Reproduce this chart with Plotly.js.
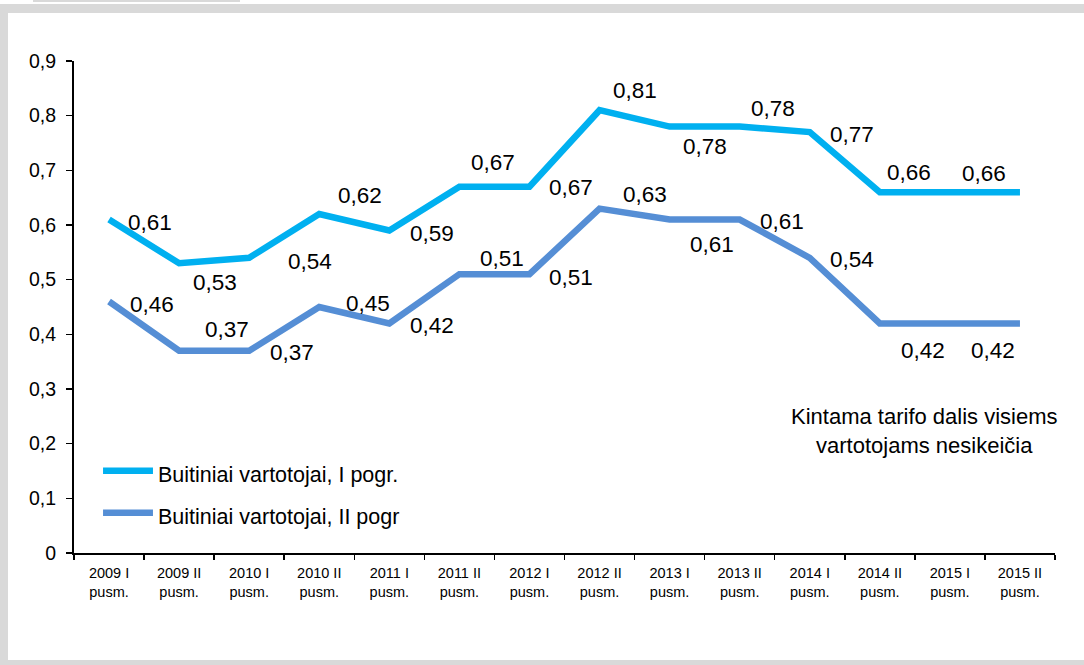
<!DOCTYPE html>
<html>
<head>
<meta charset="utf-8">
<script src="https://cdn.plot.ly/plotly-3.0.1.min.js"></script>
<style>
  html, body { margin: 0; padding: 0; background: #ffffff; }
  #wrap { position: relative; width: 1084px; height: 665px; overflow: hidden; background: #ffffff; }
  #chart { position: absolute; left: 0; top: 0; width: 1084px; height: 665px; }
  .band { position: absolute; background: #d9d9d9; }
</style>
</head>
<body>
<div id="wrap">
  <div class="band" style="left:33px;top:0;width:207px;height:2px;"></div>
  <div class="band" style="left:0;top:4px;width:1084px;height:9px;"></div>
  <div class="band" style="left:0;top:4px;width:8px;height:661px;"></div>
  <div class="band" style="left:0;top:660px;width:1084px;height:5px;"></div>
  <div id="chart"></div>
</div>
<script>
// ---- data ----
const categories = [
  "2009 I<br>pusm.", "2009 II<br>pusm.", "2010 I<br>pusm.", "2010 II<br>pusm.",
  "2011 I<br>pusm.", "2011 II<br>pusm.", "2012 I<br>pusm.", "2012 II<br>pusm.",
  "2013 I<br>pusm.", "2013 II<br>pusm.", "2014 I<br>pusm.", "2014 II<br>pusm.",
  "2015 I<br>pusm.", "2015 II<br>pusm."
];
const seriesNames = ["Buitiniai vartotojai, I pogr.", "Buitiniai vartotojai, II pogr"];
const valuesI  = [0.61, 0.53, 0.54, 0.62, 0.59, 0.67, 0.67, 0.81, 0.78, 0.78, 0.77, 0.66, 0.66, 0.66];
const valuesII = [0.46, 0.37, 0.37, 0.45, 0.42, 0.51, 0.51, 0.63, 0.61, 0.61, 0.54, 0.42, 0.42, 0.42];
const noteText = "Kintama tarifo dalis visiems<br>vartotojams nesikeičia";

// ---- label placement (pixel offsets from each point; null = no label) ----
const labelOffsetsI = [
  [41, -3], [36, -19], [61, -4], [41, 19], [43, -3], [34, 24], [42, -1],
  [35, 20], [35, -20], [33, 18], [42, -2], [29, 20], [34, 19], null
];
const labelOffsetsII = [
  [43, -3], [48, 21], [43, -2], [49, 4], [43, -2], [43, 16], [42, -3],
  [45, 14], [42, -25], [42, -2], [42, -2], [43, -27], [43, -27], null
];

const colorI = "#00b0f0";
const colorII = "#558ed5";
const FONT = "Arial, 'Liberation Sans', sans-serif";

const fmt = v => v.toFixed(2).replace(".", ",");

const traces = [
  { x: categories, y: valuesI, name: seriesNames[0], type: "scatter", mode: "lines",
    line: { color: colorI, width: 6.5 }, hoverinfo: "skip" },
  { x: categories, y: valuesII, name: seriesNames[1], type: "scatter", mode: "lines",
    line: { color: colorII, width: 6.5 }, hoverinfo: "skip" }
];

const annotations = [];
function addLabels(vals, offs) {
  vals.forEach((v, i) => {
    const o = offs[i];
    if (!o) return;
    annotations.push({
      x: categories[i], y: v, xref: "x", yref: "y",
      text: fmt(v), showarrow: false,
      xshift: o[0], yshift: o[1],
      font: { family: FONT, size: 22.5, color: "#000000" }
    });
  });
}
addLabels(valuesI, labelOffsetsI);
addLabels(valuesII, labelOffsetsII);

// manual legend
const legendRows = [
  { name: seriesNames[0], color: colorI, y: 0.167, ty: 0.158 },
  { name: seriesNames[1], color: colorII, y: 0.082, ty: 0.073 }
];
const shapes = [];
legendRows.forEach(r => {
  shapes.push({ type: "line", xref: "paper", yref: "paper",
    x0: 0.0296, x1: 0.0805, y0: r.y, y1: r.y,
    line: { color: r.color, width: 6.5 } });
  annotations.push({ xref: "paper", yref: "paper", x: 0.0836, y: r.ty,
    xanchor: "left", yanchor: "middle", showarrow: false, text: r.name,
    font: { family: FONT, size: 21.5, color: "#000000" } });
});

annotations.push({ xref: "paper", yref: "paper", x: 0.8665, y: 0.248,
  xanchor: "center", yanchor: "middle", showarrow: false, align: "center",
  text: noteText, font: { family: FONT, size: 22, color: "#000000" } });

const layout = {
  width: 1084, height: 665,
  margin: { l: 74, r: 29, t: 61, b: 112, pad: 0 },
  paper_bgcolor: "rgba(0,0,0,0)",
  plot_bgcolor: "rgba(0,0,0,0)",
  separators: ",.",
  showlegend: false,
  font: { family: FONT, color: "#000000" },
  xaxis: {
    type: "category",
    categoryorder: "array", categoryarray: categories,
    range: [-0.5, categories.length - 0.5],
    showline: true, linecolor: "#000000", linewidth: 2,
    ticks: "outside", ticklen: 5, tickwidth: 1.5, tickcolor: "#000000",
    tickson: "boundaries",
    showgrid: false, zeroline: false,
    tickfont: { family: FONT, size: 14.5, color: "#000000" },
    ticklabelstandoff: 6,
    fixedrange: true
  },
  yaxis: {
    range: [0, 0.9], dtick: 0.1, tick0: 0,
    showline: true, linecolor: "#000000", linewidth: 2,
    ticks: "outside", ticklen: 6, tickwidth: 1.5, tickcolor: "#000000",
    showgrid: false, zeroline: false,
    tickfont: { family: FONT, size: 19.5, color: "#000000" },
    ticklabelstandoff: 6,
    fixedrange: true
  },
  shapes: shapes,
  annotations: annotations
};

Plotly.newPlot("chart", traces, layout, { displayModeBar: false, staticPlot: true });
</script>
</body>
</html>
